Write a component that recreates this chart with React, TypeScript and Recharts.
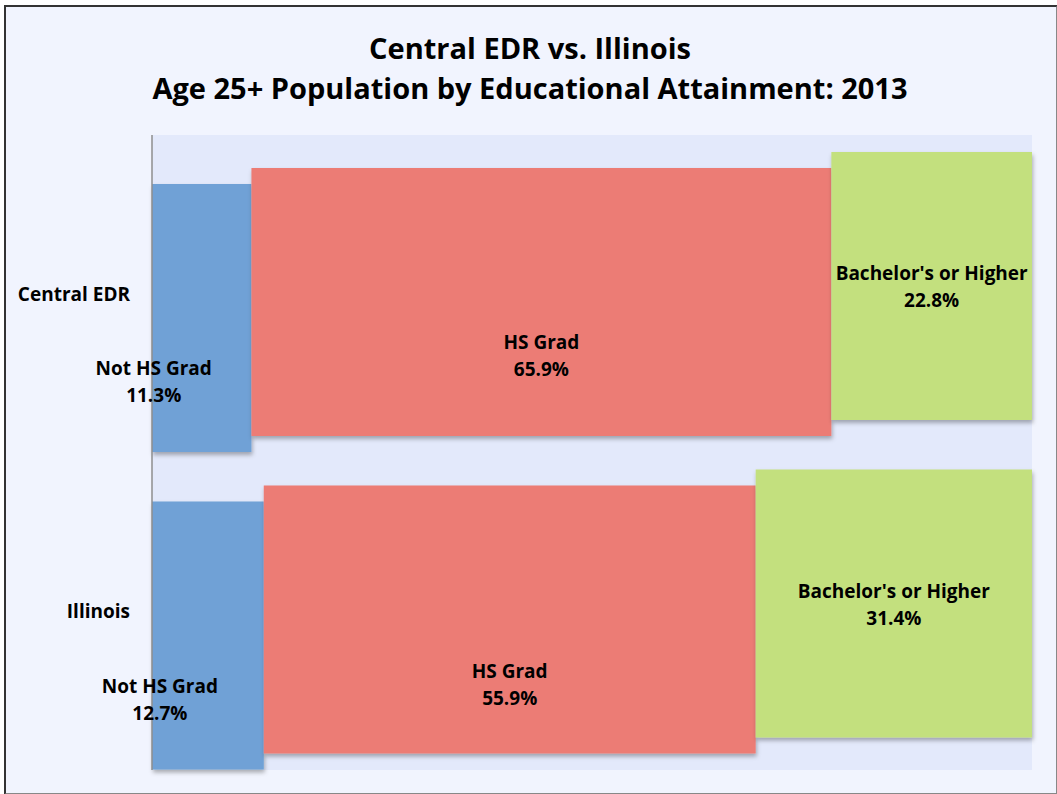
import { BarChart, Bar, XAxis, YAxis, CartesianGrid, LabelList } from 'recharts';

const regions = ['Central EDR', 'Illinois'];
const notHsGrad = [11.3, 12.7];
const hsGrad = [65.9, 55.9];
const bachelors = [22.8, 31.4];

const seriesNames = ['Not HS Grad', 'HS Grad', "Bachelor's or Higher"];

const data = regions.map((name, i) => ({
  name,
  notHs: notHsGrad[i],
  hs: hsGrad[i],
  ba: bachelors[i],
}));

const FONT = '"Open Sans", Lato, sans-serif';

// fake 3D depth: each series sits a bit higher than the one before it
const series = [
  { key: 'notHs', label: seriesNames[0], color: '#6FA1D6', shift: 24, dx: -48, dy: [63, 63] },
  { key: 'hs', label: seriesNames[1], color: '#EC7B74', shift: 8, dx: 0, dy: [53, 64] },
  { key: 'ba', label: seriesNames[2], color: '#C3E07E', shift: -8, dx: 0, dy: [0, 0] },
];

function makeShape(shift: number) {
  return (props: any) => {
    const { x, y, width, height, fill } = props;
    return <rect x={x} y={y + shift} width={width} height={height} fill={fill} filter="url(#barShadow)" />;
  };
}

function makeLabel(s: (typeof series)[number]) {
  return (props: any) => {
    const { x, y, width, height, value, index } = props;
    const cx = x + width / 2 + s.dx;
    const cy = y + height / 2 + s.shift + s.dy[index];
    return (
      <text x={cx} y={cy} textAnchor="middle" fontFamily={FONT} fontWeight={700} fontSize={19} fill="#000">
        <tspan x={cx} dy={-6}>{s.label}</tspan>
        <tspan x={cx} dy={27}>{`${Number(value).toFixed(1)}%`}</tspan>
      </text>
    );
  };
}

const CategoryTick = (props: any) => {
  const { x, y, payload } = props;
  return (
    <text x={x} y={y} dy={7} textAnchor="end" fontFamily={FONT} fontWeight={700} fontSize={19} fill="#000">
      {payload.value}
    </text>
  );
};

export default function App() {
  return (
    <div style={{ position: 'absolute', left: 0, top: 0, width: 1057, height: 794, background: '#fff' }}>
      <div
        style={{
          position: 'absolute',
          left: 4,
          top: 5,
          width: 1050,
          height: 786,
          background: '#F1F4FE',
          border: '2px solid #333',
          borderRightColor: '#888',
          borderBottomColor: '#888',
        }}
      />
      <div
        style={{
          position: 'absolute',
          left: 0,
          top: 28,
          width: 1060,
          textAlign: 'center',
          fontFamily: FONT,
          fontWeight: 700,
          fontSize: 29,
          lineHeight: '40px',
          color: '#000',
        }}
      >
        <div>Central EDR vs. Illinois</div>
        <div>Age 25+ Population by Educational Attainment: 2013</div>
      </div>
      <div style={{ position: 'absolute', left: 0, top: 0 }}>
        <BarChart
          width={1057}
          height={794}
          data={data}
          layout="vertical"
          margin={{ top: 135, right: 25, bottom: 24, left: 0 }}
          barSize={268}
        >
          <defs>
            <filter id="barShadow" x="-5%" y="-5%" width="115%" height="115%">
              <feDropShadow dx="1" dy="3" stdDeviation="2" floodColor="#000" floodOpacity="0.3" />
            </filter>
          </defs>
          <CartesianGrid fill="#E3E9FB" stroke="none" horizontal={false} vertical={false} />
          <XAxis type="number" domain={[0, 100]} hide />
          <YAxis
            type="category"
            dataKey="name"
            width={152}
            axisLine={{ stroke: '#8E8E8E', strokeWidth: 1.5 }}
            tickLine={false}
            tickSize={0}
            tickMargin={22}
            tick={<CategoryTick />}
          />
          {series.map((s) => (
            <Bar
              key={s.key}
              dataKey={s.key}
              stackId="edu"
              fill={s.color}
              shape={makeShape(s.shift)}
              isAnimationActive={false}
            >
              <LabelList dataKey={s.key} content={makeLabel(s)} />
            </Bar>
          ))}
        </BarChart>
      </div>
    </div>
  );
}
